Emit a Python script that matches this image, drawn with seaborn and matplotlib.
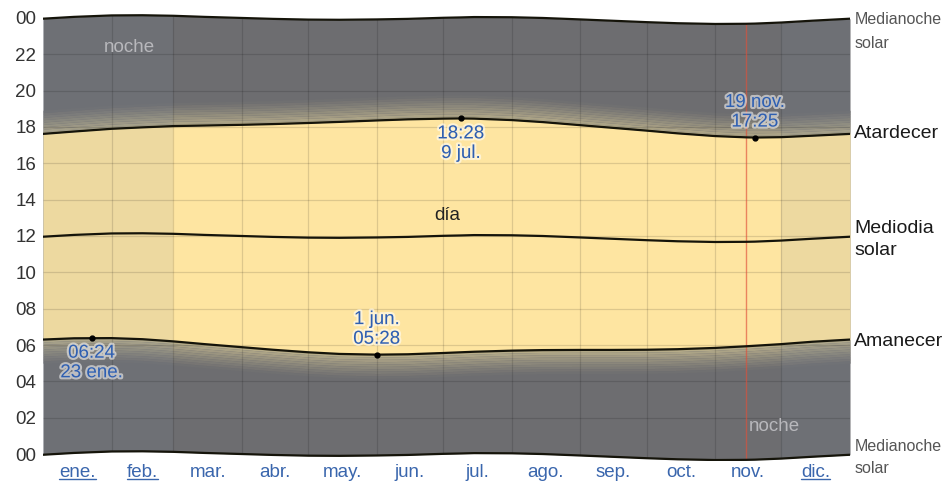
import numpy as np
import pandas as pd
import matplotlib.pyplot as plt
import matplotlib.colors as mcolors
import matplotlib.patheffects as pe
from matplotlib.lines import Line2D
import seaborn as sns

# day of year and times (hours)
days = [0, 14, 31, 45, 59, 73, 90, 104, 120, 134, 151, 165, 181, 189, 195,
        212, 226, 243, 257, 273, 287, 304, 318, 322, 334, 348, 365]
sunrise = [6.30, 6.37, 6.38, 6.32, 6.20, 6.05, 5.88, 5.74, 5.60, 5.51, 5.47, 5.49,
           5.56, 5.60, 5.63, 5.69, 5.72, 5.73, 5.73, 5.74, 5.77, 5.84, 5.93, 5.96,
           6.05, 6.18, 6.30]
sunset = [17.62, 17.75, 17.90, 17.98, 18.05, 18.08, 18.12, 18.16, 18.22, 18.28,
          18.36, 18.42, 18.46, 18.47, 18.46, 18.38, 18.27, 18.10, 17.96, 17.80,
          17.65, 17.50, 17.43, 17.42, 17.44, 17.52, 17.62]
noon = [11.96, 12.06, 12.14, 12.15, 12.12, 12.06, 12.00, 11.95, 11.91, 11.90,
        11.92, 11.95, 12.01, 12.03, 12.05, 12.04, 12.00, 11.92, 11.85, 11.77,
        11.71, 11.67, 11.68, 11.69, 11.75, 11.85, 11.96]
midnight = [-0.04, 0.06, 0.14, 0.15, 0.12, 0.06, 0.00, -0.05, -0.09, -0.10,
            -0.08, -0.05, 0.01, 0.03, 0.05, 0.04, 0.00, -0.08, -0.15, -0.23,
            -0.29, -0.33, -0.32, -0.31, -0.25, -0.15, -0.04]
twilight_len = 1.3

month_starts = [0, 31, 59, 90, 120, 151, 181, 212, 243, 273, 304, 334, 365]
month_labels = ['ene.', 'feb.', 'mar.', 'abr.', 'may.', 'jun.', 'jul.', 'ago.',
                'sep.', 'oct.', 'nov.', 'dic.']
linked_months = ['ene.', 'feb.', 'dic.']
shaded_spans = [(0, 59), (334, 365)]
today = 318

extremes = [(22, 6.40, '06:24\n23 ene.', 'below'),
            (151, 5.47, '1 jun.\n05:28', 'above'),
            (189, 18.47, '18:28\n9 jul.', 'below'),
            (322, 17.42, '19 nov.\n17:25', 'above')]

df = pd.DataFrame({'day': days, 'sunrise': sunrise, 'sunset': sunset,
                   'noon': noon, 'midnight': midnight})
df['midnight_next'] = df['midnight'] + 24

sns.set_style('white')
plt.rcParams['font.family'] = ['Liberation Sans', 'DejaVu Sans']

fig = plt.figure(figsize=(9.46, 4.84), dpi=100)
ax = fig.add_axes([43 / 946, 22.7 / 484, 807 / 946, 450.6 / 484])

DAY = '#FEE5A1'
NIGHT = '#6D6D70'
TWI = '#BDB28C'

night = ax.fill_between(df['day'], df['midnight'], df['midnight_next'],
                        color=NIGHT, lw=0, zorder=1)
clip = night.get_paths()[0]

# twilight gradient
n = 10
step = twilight_len / n
c0 = np.array(mcolors.to_rgb(TWI))
c1 = np.array(mcolors.to_rgb(NIGHT))
for k in range(n):
    t = ((k + 0.5) / n) ** 0.8
    col = c0 * (1 - t) + c1 * t
    ax.fill_between(df['day'], df['sunset'] + k * step, df['sunset'] + (k + 1) * step,
                    color=col, lw=0, zorder=1.1)
    ax.fill_between(df['day'], df['sunrise'] - (k + 1) * step, df['sunrise'] - k * step,
                    color=col, lw=0, zorder=1.1)

ax.fill_between(df['day'], df['sunrise'], df['sunset'], color=DAY, lw=0, zorder=1.2)

for a, b in shaded_spans:
    sp = ax.axvspan(a, b, color='#7887A0', alpha=0.12, lw=0, zorder=1.3)
    sp.set_clip_path(clip, ax.transData)

hl = ax.hlines(range(2, 24, 2), 0, 365, color='black', alpha=0.13, lw=0.9, zorder=1.4)
hl.set_clip_path(clip, ax.transData)
vl = ax.vlines(month_starts[1:-1], -1, 25, color='black', alpha=0.13, lw=0.9, zorder=1.4)
vl.set_clip_path(clip, ax.transData)
rl = ax.vlines([today], -1, 25, color='#E0503A', alpha=0.65, lw=1, zorder=1.5)
rl.set_clip_path(clip, ax.transData)

for col in ['midnight', 'midnight_next', 'sunrise', 'sunset', 'noon']:
    sns.lineplot(data=df, x='day', y=col, ax=ax, color='#15140A', lw=1.6, zorder=2)

# extremes
halo = [pe.withStroke(linewidth=3, foreground='white', alpha=0.55)]
for d, h, txt, where in extremes:
    ax.plot([d], [h], 'o', color='black', ms=3.5, zorder=3)
    off = -5 if where == 'below' else 5
    ax.annotate(txt, (d, h), xytext=(0, off), textcoords='offset points',
                ha='center', va='top' if where == 'below' else 'bottom',
                fontsize=13.5, color='#2F5FB0', path_effects=halo, zorder=4)

ax.text(39, 22.4, 'noche', ha='center', va='center', fontsize=13.5, color='#B8B8BC', zorder=4)
ax.text(331, 1.54, 'noche', ha='center', va='center', fontsize=13.5, color='#B8B8BC', zorder=4)
ax.text(183, 13.15, 'día', ha='center', va='center', fontsize=13.5, color='#222222', zorder=4)

# right side labels
xr = 367
ax.text(xr, 24.35, 'Medianoche\nsolar', ha='left', va='top', fontsize=11.5,
        color='#555555', linespacing=1.75, clip_on=False)
ax.text(xr, df['sunset'].iloc[-1], 'Atardecer', ha='left', va='center', fontsize=14,
        color='#1A1A1A', clip_on=False)
ax.text(xr, 12.9, 'Mediodia\nsolar', ha='left', va='top', fontsize=14,
        color='#1A1A1A', linespacing=1.45, clip_on=False)
ax.text(xr, df['sunrise'].iloc[-1] - 0.08, 'Amanecer', ha='left', va='center', fontsize=14,
        color='#1A1A1A', clip_on=False)
ax.text(xr, 0.8, 'Medianoche\nsolar', ha='left', va='top', fontsize=11.5,
        color='#555555', linespacing=1.55, clip_on=False)

ax.set_xlim(0, 365)
ax.set_ylim(-0.4, 24.4)
ax.set_yticks(range(0, 25, 2))
ax.set_yticklabels([f'{h % 24:02d}' for h in range(0, 25, 2)], fontsize=13.5, color='#333333')
mids = [(month_starts[i] + month_starts[i + 1]) / 2 for i in range(12)]
ax.set_xticks(mids)
ax.set_xticklabels(month_labels, fontsize=13.5, color='#3A66AD')
ax.tick_params(length=0, pad=2)
ax.tick_params(axis='y', pad=5)
ax.set_xlabel('')
ax.set_ylabel('')
for s in ax.spines.values():
    s.set_visible(False)
ax.set_facecolor('white')

# underline the linked month labels
fig.canvas.draw()
for lab in ax.get_xticklabels():
    if lab.get_text() in linked_months:
        bb = lab.get_window_extent()
        y = bb.y0 + 2
        fig.add_artist(Line2D([bb.x0 / 946, bb.x1 / 946], [y / 484, y / 484],
                              color='#3A66AD', lw=1))

fig.savefig('out.png', dpi=100)
